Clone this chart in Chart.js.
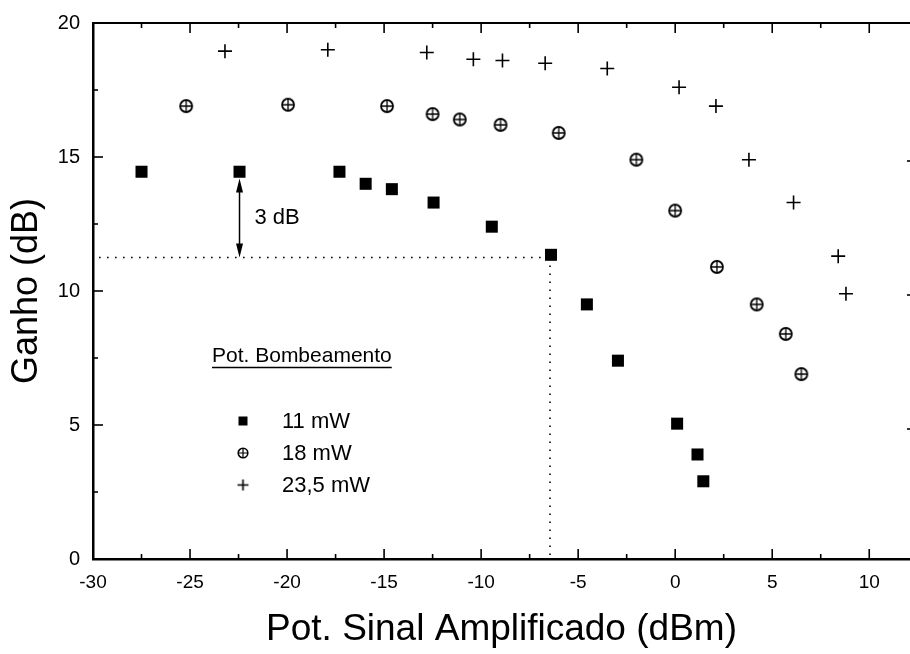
<!DOCTYPE html>
<html>
<head>
<meta charset="utf-8">
<script src="https://cdn.jsdelivr.net/npm/chart.js@4.4.1/dist/chart.umd.min.js"></script>
<style>
  html, body { margin: 0; padding: 0; background: #fff; }
  #wrap { width: 910px; height: 654px; }
</style>
</head>
<body>
<div id="wrap"><canvas id="gainChart" width="910" height="654"></canvas></div>
<script>
// pump power 11 mW
const pump11X = [-27.5, -22.45, -17.3, -15.95, -14.6, -12.45, -9.45, -6.4, -4.55, -2.95, 0.1, 1.15, 1.45];
const pump11Y = [14.45, 14.45, 14.45, 14.0, 13.8, 13.3, 12.4, 11.35, 9.5, 7.4, 5.05, 3.9, 2.9];
// pump power 18 mW
const pump18X = [-25.2, -19.95, -14.85, -12.5, -11.1, -9.0, -6.0, -2.0, 0.0, 2.15, 4.2, 5.7, 6.5];
const pump18Y = [16.9, 16.95, 16.9, 16.6, 16.4, 16.2, 15.9, 14.9, 13.0, 10.9, 9.5, 8.4, 6.9];
// pump power 23,5 mW
const pump235X = [-23.2, -17.9, -12.8, -10.4, -8.9, -6.7, -3.5, 0.2, 2.1, 3.8, 6.1, 8.4, 8.8];
const pump235Y = [18.95, 19.0, 18.9, 18.65, 18.6, 18.5, 18.3, 17.6, 16.9, 14.9, 13.3, 11.3, 9.9];

const seriesLabels = ['11 mW', '18 mW', '23,5 mW'];
const legendTitle = 'Pot. Bombeamento';
const xTickValues = [-30, -25, -20, -15, -10, -5, 0, 5, 10];
const yTickValues = [0, 5, 10, 15, 20];

// 3 dB compression marks
const kneeX = -6.45;
const kneeY = 11.25;
const arrowX = -22.45;
const arrowTop = 14.2;

const FONT = '"Liberation Sans", Arial, sans-serif';

function toPoints(xs, ys) {
  return xs.map((x, i) => ({ x, y: ys[i] }));
}

function makeMarker(kind, r) {
  const size = Math.ceil(r * 2 + 4);
  const c = document.createElement('canvas');
  c.width = size;
  c.height = size;
  const g = c.getContext('2d');
  const m = size / 2;
  g.strokeStyle = '#000';
  g.fillStyle = '#000';
  if (kind === 'square') {
    g.fillRect(m - r, m - r, 2 * r, 2 * r);
  } else if (kind === 'oplus') {
    g.lineWidth = r > 5 ? 1.8 : 1.6;
    g.beginPath();
    g.arc(m, m, r, 0, Math.PI * 2);
    g.stroke();
    g.lineWidth = r > 5 ? 1.3 : 1.2;
    g.beginPath();
    g.moveTo(m - r, m); g.lineTo(m + r, m);
    g.moveTo(m, m - r); g.lineTo(m, m + r);
    g.stroke();
  } else {
    g.lineWidth = r > 5 ? 1.6 : 1.4;
    g.beginPath();
    g.moveTo(m - r, m); g.lineTo(m + r, m);
    g.moveTo(m, m - r); g.lineTo(m, m + r);
    g.stroke();
  }
  return c;
}

const oplusMark = makeMarker('oplus', 6);
const legendMarks = [makeMarker('square', 4.5), makeMarker('oplus', 4.8), makeMarker('plus', 5.5)];

const guides = {
  id: 'guides',
  beforeDatasetsDraw(chart) {
    const { ctx, scales: { x, y } } = chart;
    const px = x.getPixelForValue(kneeX);
    const py = y.getPixelForValue(kneeY);
    ctx.save();
    ctx.strokeStyle = '#000';
    ctx.lineWidth = 1.6;
    ctx.setLineDash([1.6, 6.4]);
    ctx.beginPath();
    ctx.moveTo(x.getPixelForValue(-30) + 6, py);
    ctx.lineTo(px, py);
    ctx.moveTo(px, py);
    ctx.lineTo(px, y.getPixelForValue(0) - 4);
    ctx.stroke();
    ctx.setLineDash([]);

    // double arrow
    const ax = x.getPixelForValue(arrowX);
    const top = y.getPixelForValue(arrowTop);
    const bot = py;
    ctx.lineWidth = 1.5;
    ctx.beginPath();
    ctx.moveTo(ax, top + 8);
    ctx.lineTo(ax, bot - 8);
    ctx.stroke();
    ctx.fillStyle = '#000';
    ctx.beginPath();
    ctx.moveTo(ax, top); ctx.lineTo(ax - 3.5, top + 14); ctx.lineTo(ax + 3.5, top + 14); ctx.closePath();
    ctx.moveTo(ax, bot); ctx.lineTo(ax - 3.5, bot - 14); ctx.lineTo(ax + 3.5, bot - 14); ctx.closePath();
    ctx.fill();

    ctx.font = '22px ' + FONT;
    ctx.textAlign = 'left';
    ctx.textBaseline = 'middle';
    ctx.fillText('3 dB', ax + 15, (top + bot) / 2);
    ctx.restore();
  }
};

const frameTicks = {
  id: 'frameTicks',
  afterDraw(chart) {
    const { ctx, chartArea: a, scales: { x, y } } = chart;
    ctx.save();
    ctx.strokeStyle = '#000';
    ctx.lineWidth = 2;
    ctx.beginPath();
    ctx.moveTo(a.left, a.top);
    ctx.lineTo(a.right, a.top);
    ctx.stroke();

    ctx.lineWidth = 1.6;
    const line = (x1, y1, x2, y2) => {
      ctx.beginPath(); ctx.moveTo(x1, y1); ctx.lineTo(x2, y2); ctx.stroke();
    };
    const xs = [];
    xTickValues.forEach(v => { xs.push([v, 10]); xs.push([v + 2.5, 5]); });
    xs.forEach(([v, len]) => {
      const p = x.getPixelForValue(v);
      if (p <= a.left + 1 || p >= a.right) return;
      line(p, a.bottom, p, a.bottom - len);
      line(p, a.top, p, a.top + len);
    });
    const ys = [];
    yTickValues.forEach(v => { ys.push([v, 10]); ys.push([v + 2.5, 5]); });
    ys.forEach(([v, len]) => {
      const p = y.getPixelForValue(v);
      if (p <= a.top + 1 || p >= a.bottom - 1) return;
      line(a.left, p, a.left + len, p);
      // right axis sits just past the canvas edge: only tips of major ticks show
      if (len === 10) line(a.right, p + 4, a.right - 3, p + 4);
    });
    ctx.restore();
  }
};

const pumpLegend = {
  id: 'pumpLegend',
  afterDraw(chart) {
    const { ctx } = chart;
    ctx.save();
    ctx.fillStyle = '#000';
    ctx.strokeStyle = '#000';
    ctx.font = '21px ' + FONT;
    ctx.textAlign = 'left';
    ctx.textBaseline = 'alphabetic';
    const tx = 212, ty = 362;
    ctx.fillText(legendTitle, tx, ty);
    const w = ctx.measureText(legendTitle).width;
    ctx.lineWidth = 1.5;
    ctx.beginPath();
    ctx.moveTo(tx, ty + 5.5);
    ctx.lineTo(tx + w, ty + 5.5);
    ctx.stroke();

    ctx.font = '22px ' + FONT;
    ctx.textBaseline = 'middle';
    seriesLabels.forEach((label, i) => {
      const cy = 421 + i * 32;
      const m = legendMarks[i];
      ctx.drawImage(m, 243 - m.width / 2, cy - m.height / 2);
      ctx.fillText(label, 282, cy + 1);
    });
    ctx.restore();
  }
};

new Chart(document.getElementById('gainChart'), {
  type: 'scatter',
  data: {
    datasets: [
      {
        label: seriesLabels[0],
        data: toPoints(pump11X, pump11Y),
        pointStyle: 'rect',
        pointRadius: 8.5,
        backgroundColor: '#000',
        borderColor: '#000',
        borderWidth: 0
      },
      {
        label: seriesLabels[1],
        data: toPoints(pump18X, pump18Y),
        pointStyle: oplusMark,
        pointRadius: 7,
        backgroundColor: '#000',
        borderColor: '#000'
      },
      {
        label: seriesLabels[2],
        data: toPoints(pump235X, pump235Y),
        pointStyle: 'cross',
        pointRadius: 7,
        borderWidth: 1.6,
        borderColor: '#000',
        backgroundColor: '#000'
      }
    ]
  },
  options: {
    responsive: false,
    animation: false,
    layout: { autoPadding: false, padding: { top: 23, left: 0, right: 0, bottom: 0 } },
    plugins: {
      legend: { display: false },
      tooltip: { enabled: false }
    },
    scales: {
      x: {
        type: 'linear',
        position: 'bottom',
        min: -30,
        max: 12.1,
        afterBuildTicks: s => { s.ticks = xTickValues.map(v => ({ value: v })); },
        afterFit: s => { s.height = 95; s.paddingLeft = 0; s.paddingRight = 0; },
        grid: { display: false, drawTicks: false },
        border: { display: true, color: '#000', width: 2.5 },
        ticks: {
          color: '#000',
          font: { family: FONT, size: 19 },
          padding: 12,
          maxRotation: 0,
          autoSkip: false
        },
        title: {
          display: true,
          text: 'Pot. Sinal Amplificado (dBm)',
          color: '#000',
          font: { family: FONT, size: 37, lineHeight: 1 },
          padding: { top: 0, bottom: 6 }
        }
      },
      y: {
        type: 'linear',
        min: 0,
        max: 20,
        afterBuildTicks: s => { s.ticks = yTickValues.map(v => ({ value: v })); },
        afterFit: s => { s.width = 93; s.paddingTop = 0; s.paddingBottom = 0; },
        grid: { display: false, drawTicks: false },
        border: { display: true, color: '#000', width: 2.5 },
        ticks: {
          color: '#000',
          font: { family: FONT, size: 20 },
          padding: 13
        },
        title: {
          display: true,
          text: 'Ganho (dB)',
          color: '#000',
          font: { family: FONT, size: 36, lineHeight: 1 },
          padding: { top: 9, bottom: 0 }
        }
      }
    }
  },
  plugins: [guides, frameTicks, pumpLegend]
});
</script>
</body>
</html>
